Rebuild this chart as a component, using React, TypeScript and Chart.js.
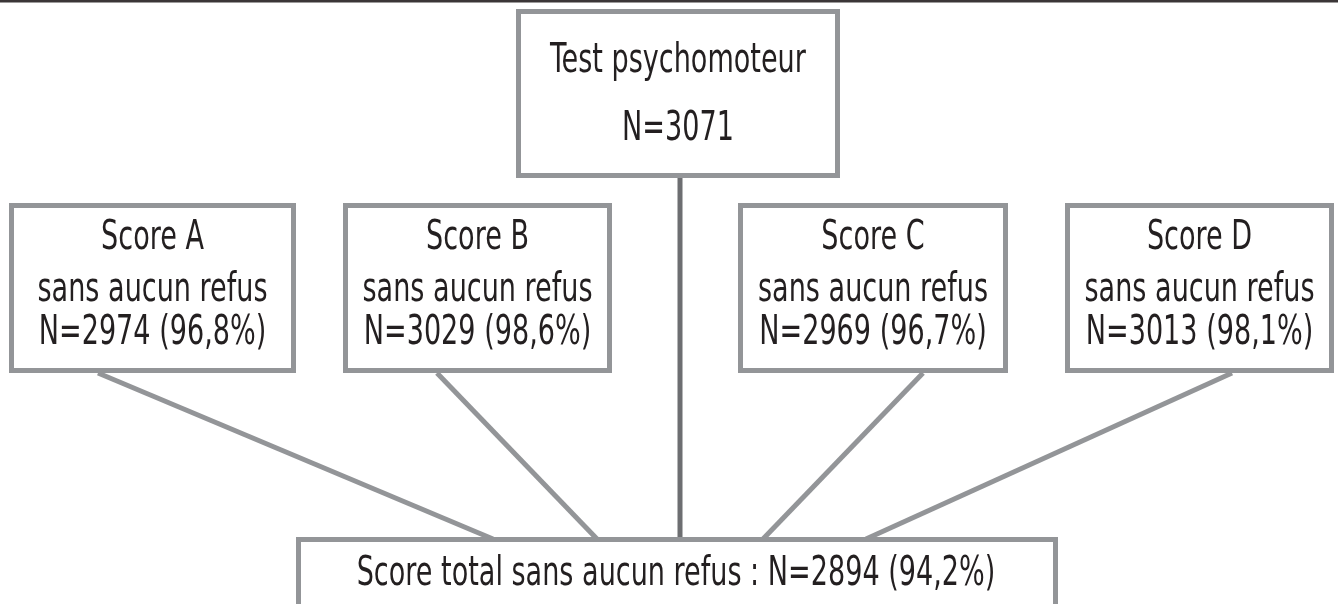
import React, { useEffect, useRef } from "react";
import { Chart, registerables } from "chart.js";

Chart.register(...registerables);

// ---- data ----
const rootLabel = "Test psychomoteur";
const rootN = 3071;
const scoreLabels = ["Score A", "Score B", "Score C", "Score D"];
const scoreSubLabel = "sans aucun refus";
const scoreN = [2974, 3029, 2969, 3013];
const scorePct = ["96,8%", "98,6%", "96,7%", "98,1%"];
const totalLabel = "Score total sans aucun refus";
const totalN = 2894;
const totalPct = "94,2%";

// ---- layout (in scale units) ----
const W = 1338;
const H = 604;
const rootBox = { x0: 516, x1: 840, y0: 9, y1: 178 };
const scoreBoxes = [
  { x0: 9, x1: 296, y0: 203, y1: 373 },
  { x0: 343, x1: 612, y0: 203, y1: 373 },
  { x0: 738, x1: 1008, y0: 203, y1: 373 },
  { x0: 1065, x1: 1334, y0: 203, y1: 373 },
];
const totalBox = { x0: 296, x1: 1058, y0: 537, y1: 620 };
const linkStarts = [98, 437, 923, 1232];
const linkEnds = [493, 597, 763, 866];
const trunkX = 680;

const FONT = "'Liberation Sans Narrow', 'DejaVu Sans Condensed', 'Roboto', sans-serif";
const TEXT_COLOR = "#231f20";
const BORDER = "#939598";
const TRUNK = "#6d6e71";

export default function App() {
  const ref = useRef<HTMLCanvasElement>(null);
  useEffect(() => {
    const canvas = ref.current!;
    const flowPlugin = {
      id: "flow",
      afterDraw(chart: any) {
        const ctx: CanvasRenderingContext2D = chart.ctx;
        const xs = chart.scales.x;
        const ys = chart.scales.y;
        const px = (v: number) => xs.getPixelForValue(v);
        const py = (v: number) => ys.getPixelForValue(v);
        ctx.save();
        // top rule
        ctx.fillStyle = "#3b3637";
        ctx.fillRect(px(0), py(0), px(W) - px(0), py(2.5) - py(0));

        const lw = 5;
        const rect = (b: any) => {
          ctx.strokeStyle = BORDER;
          ctx.lineWidth = lw;
          ctx.strokeRect(px(b.x0) + lw / 2, py(b.y0) + lw / 2, px(b.x1) - px(b.x0) - lw, py(b.y1) - py(b.y0) - lw);
        };
        const line = (x0: number, y0: number, x1: number, y1: number, color: string) => {
          ctx.strokeStyle = color;
          ctx.lineWidth = lw;
          ctx.lineCap = "butt";
          ctx.beginPath();
          ctx.moveTo(px(x0), py(y0));
          ctx.lineTo(px(x1), py(y1));
          ctx.stroke();
        };
        // lines
        line(trunkX, rootBox.y1, trunkX, totalBox.y0 + 2, TRUNK);
        scoreBoxes.forEach((b, i) => {
          line(linkStarts[i], b.y1, linkEnds[i], totalBox.y0 + 2, BORDER);
        });
        // boxes
        rect(rootBox);
        scoreBoxes.forEach(rect);
        ctx.fillStyle = "#ffffff";
        ctx.fillRect(px(totalBox.x0), py(totalBox.y0), px(totalBox.x1) - px(totalBox.x0), py(totalBox.y1) - py(totalBox.y0));
        rect(totalBox);

        // text
        const size = 41;
        ctx.font = `${size}px ${FONT}`;
        const k = 230 / ctx.measureText(scoreSubLabel).width;
        const text = (s: string, cx: number, cy: number) => {
          ctx.save();
          ctx.font = `${size}px ${FONT}`;
          ctx.fillStyle = TEXT_COLOR;
          ctx.textAlign = "center";
          ctx.textBaseline = "middle";
          ctx.translate(px(cx), py(cy));
          ctx.scale(k, 1);
          ctx.fillText(s, 0, 0);
          ctx.restore();
        };
        const rcx = (rootBox.x0 + rootBox.x1) / 2;
        text(rootLabel, rcx, 61);
        text(`N=${rootN}`, rcx, 129);
        scoreBoxes.forEach((b, i) => {
          const cx = (b.x0 + b.x1) / 2;
          text(scoreLabels[i], cx, 238);
          text(scoreSubLabel, cx, 290);
          text(`N=${scoreN[i]} (${scorePct[i]})`, cx, 333);
        });
        text(`${totalLabel} : N=${totalN} (${totalPct})`, 676, 574);
        ctx.restore();
      },
    };
    const chart = new Chart(canvas, {
      type: "scatter",
      data: {
        datasets: [
          {
            data: [],
            pointRadius: 0,
          },
        ],
      },
      options: {
        responsive: false,
        animation: false,
        events: [],
        layout: { padding: 0 },
        plugins: { legend: { display: false }, tooltip: { enabled: false } },
        scales: {
          x: { type: "linear", min: 0, max: W, display: false },
          y: { type: "linear", min: 0, max: H, reverse: true, display: false },
        },
      },
      plugins: [flowPlugin],
    });
    return () => chart.destroy();
  }, []);
  return (
    <div style={{ position: "fixed", left: 0, top: 0, width: W, height: H, background: "#fff" }}>
      <canvas ref={ref} width={W} height={H} style={{ width: W, height: H, display: "block" }} />
    </div>
  );
}
